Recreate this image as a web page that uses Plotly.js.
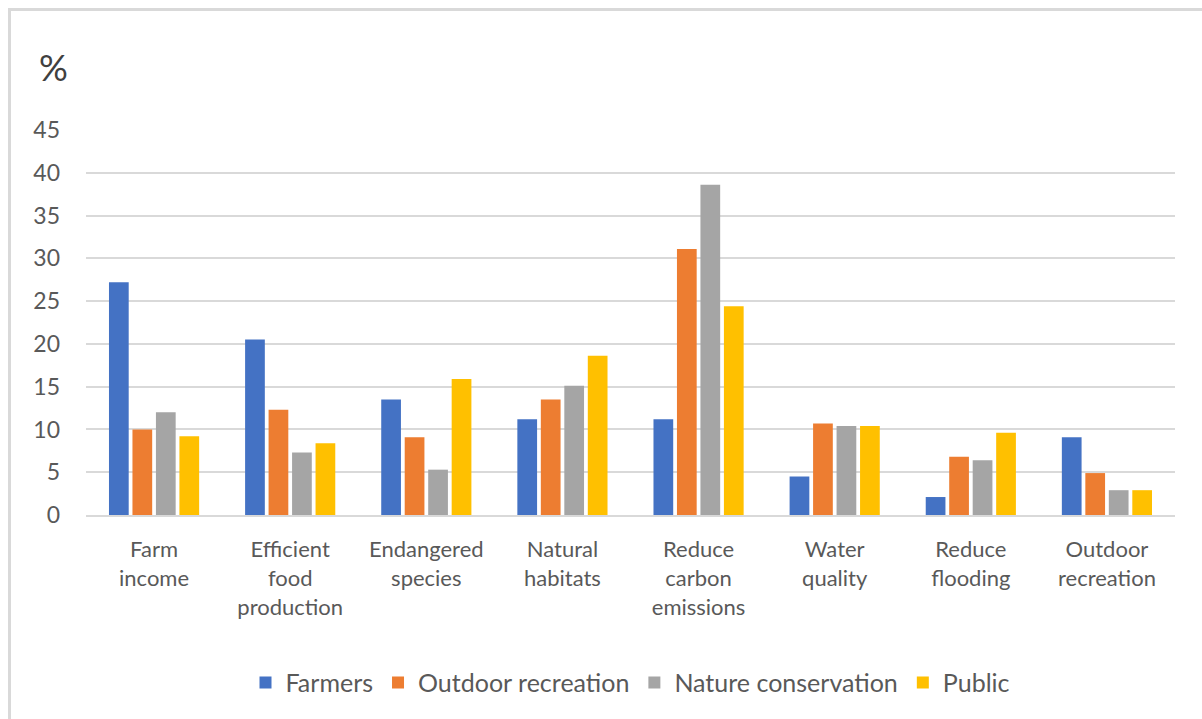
<!DOCTYPE html>
<html>
<head>
<meta charset="utf-8">
<script src="https://cdn.plot.ly/plotly-3.0.1.min.js"></script>
<style>
  html, body { margin: 0; padding: 0; background: #ffffff; }
  #frame {
    position: absolute; left: 8px; top: 8px; width: 1194px; height: 711px;
    border-top: 3px solid #d9d9d9; border-left: 3px solid #d9d9d9;
    box-sizing: border-box;
  }
  #chart { position: absolute; left: 0; top: 0; width: 1202px; height: 719px; }
</style>
</head>
<body>
<div id="frame"></div>
<div id="chart"></div>
<script>
// Objectives (categories along the x axis)
const categories = [
  "Farm<br>income",
  "Efficient<br>food<br>production",
  "Endangered<br>species",
  "Natural<br>habitats",
  "Reduce<br>carbon<br>emissions",
  "Water<br>quality",
  "Reduce<br>flooding",
  "Outdoor<br>recreation"
];

// Share of respondents (%) per group
const farmers            = [27.2, 20.5, 13.5, 11.2, 11.2, 4.5, 2.1, 9.1];
const outdoorRecreation  = [10.0, 12.3,  9.1, 13.5, 31.1, 10.7, 6.8, 4.9];
const natureConservation = [12.0,  7.3,  5.3, 15.1, 38.6, 10.4, 6.4, 2.9];
const publicGroup        = [ 9.2,  8.4, 15.9, 18.6, 24.4, 10.4, 9.6, 2.9];

const seriesNames  = ["Farmers", "Outdoor recreation", "Nature conservation", "Public"];
const seriesValues = [farmers, outdoorRecreation, natureConservation, publicGroup];
const seriesColors = ["#4472C4", "#ED7D31", "#A5A5A5", "#FFC000"];

const yTicks = [0, 5, 10, 15, 20, 25, 30, 35, 40, 45];

const FONT = "Lato, 'Open Sans', 'Liberation Sans', sans-serif";
const TEXT_COLOR = "#595959";

const traces = seriesNames.map((name, i) => ({
  type: "bar",
  name: name,
  x: categories,
  y: seriesValues[i],
  marker: { color: seriesColors[i], line: { width: 0 } },
  hoverinfo: "name+y"
}));

const layout = {
  width: 1202,
  height: 719,
  paper_bgcolor: "rgba(0,0,0,0)",
  plot_bgcolor: "rgba(0,0,0,0)",
  margin: { l: 86, r: 27, t: 130, b: 204 },
  barmode: "group",
  bargap: 0.31,
  bargroupgap: 0.16,
  font: { family: FONT, color: TEXT_COLOR, size: 22 },
  xaxis: {
    type: "category",
    showgrid: false,
    showline: true,
    linecolor: "#d9d9d9",
    linewidth: 2,
    ticks: "",
    ticklabelstandoff: 14,
    tickfont: { family: FONT, size: 22, color: TEXT_COLOR },
    fixedrange: true
  },
  yaxis: {
    range: [0, 45],
    tickvals: yTicks,
    ticktext: yTicks.map(String),
    showgrid: true,
    gridcolor: "#d9d9d9",
    gridwidth: 2,
    zeroline: false,
    showline: false,
    ticks: "",
    ticklabelstandoff: 25,
    tickfont: { family: FONT, size: 23, color: TEXT_COLOR },
    fixedrange: true
  },
  legend: {
    orientation: "h",
    x: 0.5,
    xanchor: "center",
    y: -0.436,
    yanchor: "middle",
    font: { family: FONT, size: 25, color: TEXT_COLOR },
    itemclick: false,
    itemdoubleclick: false
  },
  annotations: [{
    text: "%",
    xref: "paper", yref: "paper",
    x: -0.0295, y: 1.164,
    xanchor: "center", yanchor: "middle",
    showarrow: false,
    font: { family: FONT, size: 36, color: "#404040" }
  }]
};

Plotly.newPlot("chart", traces, layout, { displayModeBar: false, staticPlot: true });
</script>
</body>
</html>
